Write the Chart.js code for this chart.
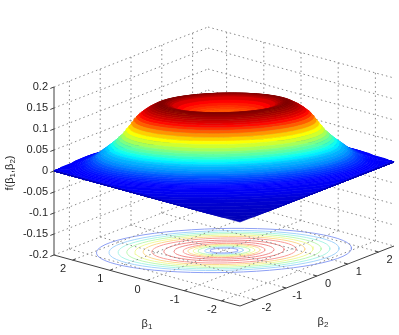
<!DOCTYPE html>
<html>
<head>
<meta charset="utf-8">
<script src="https://cdn.jsdelivr.net/npm/chart.js@4"></script>
<style>
html, body { margin: 0; padding: 0; background: #fff; }
canvas { display: block; }
</style>
</head>
<body>
<canvas id="surfaceChart" width="399" height="335"></canvas>
<script>
// tick values and labels
var betaTicks = [-2, -1, 0, 1, 2];
var betaLabels = ['-2', '-1', '0', '1', '2'];
var zTicks = [-0.2, -0.15, -0.1, -0.05, 0, 0.05, 0.1, 0.15, 0.2];
var zLabels = ['-0.2', '-0.15', '-0.1', '-0.05', '0', '0.05', '0.1', '0.15', '0.2'];

// surface profile, from the outer tail to the centre
var profileRho = [6.8, 6.4, 6.0, 5.6, 5.2, 4.8, 4.4, 4.0, 3.7, 3.4, 3.2, 3.0, 2.95, 2.9, 2.85, 2.8, 2.75, 2.7, 2.65, 2.6, 2.55, 2.5, 2.45, 2.4, 2.35, 2.3, 2.25, 2.2, 2.15, 2.1, 2.05, 2.0, 1.95, 1.9, 1.85, 1.8, 1.75, 1.7, 1.65, 1.6, 1.55, 1.5, 1.45, 1.4, 1.35, 1.3, 1.25, 1.2, 1.15, 1.1, 1.05, 1.0, 0.9, 0.8, 0.7, 0.6, 0.5, 0.4, 0.3, 0.2, 0.1, 0];
var profileZ = [0, 0, 0, 0, 0, 0, 0, 0, 0, 0.0005, 0.002, 0.004, 0.005, 0.007, 0.0085, 0.01, 0.012, 0.014, 0.017, 0.02, 0.023, 0.027, 0.031, 0.036, 0.04, 0.045, 0.049, 0.054, 0.059, 0.064, 0.07, 0.075, 0.082, 0.09, 0.097, 0.105, 0.113, 0.12, 0.125, 0.13, 0.134, 0.138, 0.141, 0.144, 0.147, 0.149, 0.15, 0.151, 0.151, 0.15, 0.148, 0.146, 0.14, 0.135, 0.131, 0.128, 0.126, 0.125, 0.124, 0.123, 0.122, 0.122];
var profileTone = [0.05, 0.055, 0.06, 0.065, 0.07, 0.075, 0.08, 0.09, 0.1, 0.11, 0.115, 0.12, 0.122, 0.124, 0.128, 0.135, 0.145, 0.155, 0.17, 0.185, 0.2, 0.225, 0.25, 0.275, 0.29, 0.31, 0.34, 0.375, 0.41, 0.45, 0.48, 0.515, 0.56, 0.6, 0.645, 0.7, 0.76, 0.81, 0.85, 0.885, 0.91, 0.93, 0.95, 0.965, 0.98, 0.99, 1, 1, 0.99, 0.97, 0.95, 0.93, 0.89, 0.86, 0.84, 0.82, 0.81, 0.8, 0.79, 0.78, 0.78, 0.78];

// floor contours
var contourRho = [2.65, 2.39, 2.2, 2.02, 1.85, 1.68, 1.5, 1.25, 1.04, 0.85, 0.75, 0.64, 0.54, 0.4, 0.29];
var contourColors = ['#8ea0f4', '#a4d4fb', '#aaf4e6', '#bdf8b4', '#f0fa9c', '#fcd890', '#f89c98', '#f08c8c', '#f08c8c', '#f89c98', '#fcd890', '#f0fa9c', '#bdf8b4', '#a4d4fb', '#8ea0f4'];

var S2 = Math.SQRT2;
var SQUEEZE = 1.9;
var SURFACE_WIDEN = 1.07;

// view projection from data to page units
function project(b1, b2, z) {
    return {
        x: 224 - 37.2 * b1 + 30.8 * b2,
        y: 250.5 - 10.2 * b1 - 12 * b2 - 420 * (z + 0.2)
    };
}

// point on a ring, held inside the square domain
function ringPoint(rho, deg, z, widen) {
    var a = deg * Math.PI / 180;
    var u = rho * Math.cos(a) * widen;
    var v = rho * Math.sin(a) / SQUEEZE;
    var b1 = (u + v) / S2;
    var b2 = (v - u) / S2;
    var s = Math.min(1, 2.5 / Math.max(Math.abs(b1), Math.abs(b2), 1e-6));
    return project(b1 * s, b2 * s, z);
}

function jet(t) {
    function ch(c) {
        return Math.round(255 * Math.max(0, Math.min(1, 1.5 - Math.abs(4 * t - c))));
    }
    return 'rgb(' + ch(3) + ',' + ch(2) + ',' + ch(1) + ')';
}

var paint = [];

function gridLine(a, b) {
    paint.push({
        data: [a, b], showLine: true, pointRadius: 0, borderWidth: 1,
        borderColor: '#8a8a8a', borderDash: [1.5, 3], fill: false
    });
}

function axisLine(a, b) {
    paint.push({
        data: [a, b], showLine: true, pointRadius: 0, borderWidth: 1,
        borderColor: '#404040', fill: false
    });
}

// contours under the grid
contourRho.forEach(function(rho, i) {
    var pts = [];
    for (var d = 0; d <= 360; d += 6) pts.push(ringPoint(rho, d, -0.2, 1));
    paint.push({
        data: pts, showLine: true, pointRadius: 0, borderWidth: 1,
        borderColor: contourColors[i], fill: false
    });
});

// walls and floor grid
zTicks.forEach(function(z) {
    gridLine(project(2.5, -2.5, z), project(2.5, 2.5, z));
    gridLine(project(2.5, 2.5, z), project(-2.5, 2.5, z));
});
betaTicks.forEach(function(t) {
    gridLine(project(2.5, t, -0.2), project(2.5, t, 0.2));
    gridLine(project(t, 2.5, -0.2), project(t, 2.5, 0.2));
    gridLine(project(2.5, t, -0.2), project(-2.5, t, -0.2));
    gridLine(project(t, 2.5, -0.2), project(t, -2.5, -0.2));
});

// solid axes with ticks
axisLine(project(2.5, -2.5, -0.2), project(2.5, -2.5, 0.2));
axisLine(project(2.5, -2.5, -0.2), project(-2.5, -2.5, -0.2));
axisLine(project(-2.5, -2.5, -0.2), project(-2.5, 2.5, -0.2));
zTicks.forEach(function(z) {
    axisLine(project(2.5, -2.5, z), project(2.5, -2.62, z));
});
betaTicks.forEach(function(t) {
    axisLine(project(t, -2.5, -0.2), project(t, -2.4, -0.2));
    axisLine(project(-2.5, t, -0.2), project(-2.4, t, -0.2));
});

// surface bands, back half going in then front half going out
function band(i, from, to) {
    var pts = [];
    var d;
    for (d = from; d <= to; d += 3) pts.push(ringPoint(profileRho[i], d, profileZ[i], SURFACE_WIDEN));
    for (d = to; d >= from; d -= 3) pts.push(ringPoint(profileRho[i + 1], d, profileZ[i + 1], SURFACE_WIDEN));
    pts.push(pts[0]);
    var col = jet((profileTone[i] + profileTone[i + 1]) / 2);
    paint.push({
        data: pts, showLine: true, pointRadius: 0, borderWidth: 0.6,
        borderColor: col, backgroundColor: col, fill: 'shape'
    });
}
var i;
for (i = 0; i < profileRho.length - 1; i++) band(i, 0, 180);
for (i = profileRho.length - 2; i >= 0; i--) band(i, 180, 360);

// the library paints the first dataset last
paint.reverse();

function subText(ctx, x, y, parts, align) {
    // parts are [text, isSubscript]
    var w = 0;
    parts.forEach(function(p) {
        ctx.font = (p[1] ? '8px' : '11px') + ' "Liberation Sans", Arial, sans-serif';
        w += ctx.measureText(p[0]).width;
    });
    var cx = align === 'center' ? x - w / 2 : x;
    parts.forEach(function(p) {
        ctx.font = (p[1] ? '8px' : '11px') + ' "Liberation Sans", Arial, sans-serif';
        ctx.fillText(p[0], cx, p[1] ? y + 3 : y);
        cx += ctx.measureText(p[0]).width;
    });
}

var labelPlugin = {
    id: 'axisText',
    afterDraw: function(chart) {
        var ctx = chart.ctx;
        var sx = chart.scales.x, sy = chart.scales.y;
        function px(p) {
            return { x: sx.getPixelForValue(p.x), y: sy.getPixelForValue(p.y) };
        }
        ctx.save();
        ctx.fillStyle = '#262626';
        ctx.font = '11px "Liberation Sans", Arial, sans-serif';
        ctx.textBaseline = 'middle';

        ctx.textAlign = 'right';
        zTicks.forEach(function(z, k) {
            var p = px(project(2.5, -2.5, z));
            ctx.fillText(zLabels[k], p.x - 6, p.y);
        });
        ctx.textAlign = 'center';
        betaTicks.forEach(function(t, k) {
            var p = px(project(t, -2.5, -0.2));
            ctx.fillText(betaLabels[k], p.x - 9.5, p.y + 9);
            var q = px(project(-2.5, t, -0.2));
            ctx.fillText(betaLabels[k], q.x + 11, q.y + 8);
        });

        ctx.textAlign = 'left';
        subText(ctx, 147, 324, [['β', false], ['1', true]], 'center');
        subText(ctx, 323, 322, [['β', false], ['2', true]], 'center');

        ctx.translate(10, 173);
        ctx.rotate(-Math.PI / 2);
        subText(ctx, 0, 0, [['f(β', false], ['1', true], [',β', false], ['2', true], [')', false]], 'center');
        ctx.restore();
    }
};

new Chart(document.getElementById('surfaceChart').getContext('2d'), {
    type: 'scatter',
    data: { datasets: paint },
    plugins: [labelPlugin],
    options: {
        responsive: false,
        animation: false,
        events: [],
        layout: { padding: 0 },
        elements: { line: { tension: 0 } },
        plugins: { legend: { display: false }, tooltip: { enabled: false } },
        scales: {
            x: { type: 'linear', min: 0, max: 399, display: false },
            y: { type: 'linear', min: 0, max: 335, reverse: true, display: false }
        }
    }
});
</script>
</body>
</html>
